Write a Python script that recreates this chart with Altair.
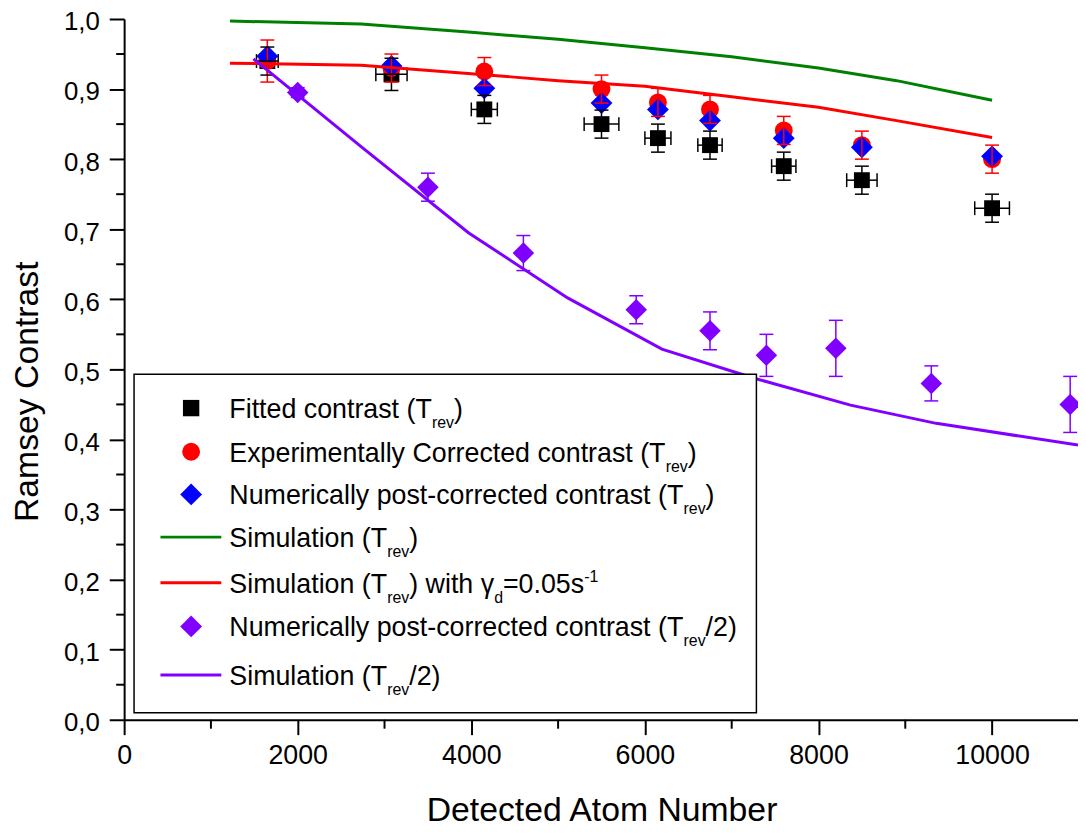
import altair as alt
import pandas as pd

# ---------------- data ----------------
atoms = [1650, 3080, 4150, 5500, 6150, 6750, 7600, 8500, 10000]
atoms_err = [125, 180, 150, 200, 150, 140, 140, 175, 200]
fitted = [0.940, 0.921, 0.871, 0.850, 0.830, 0.820, 0.790, 0.770, 0.730]
fitted_err = [0.02, 0.023, 0.02, 0.02, 0.02, 0.02, 0.02, 0.02, 0.02]
exp_corr = [0.940, 0.930, 0.925, 0.900, 0.881, 0.871, 0.841, 0.820, 0.800]
exp_corr_err = [0.03, 0.02, 0.02, 0.02, 0.02, 0.02, 0.02, 0.02, 0.02]
num_corr = [0.947, 0.933, 0.901, 0.880, 0.871, 0.855, 0.830, 0.817, 0.804]

half_atoms = [2000, 3500, 4600, 5900, 6750, 7400, 8200, 9300, 10900]
half_corr = [0.895, 0.760, 0.666, 0.585, 0.555, 0.520, 0.530, 0.480, 0.450]
half_err = [0.007, 0.02, 0.025, 0.02, 0.027, 0.03, 0.04, 0.025, 0.04]

sim_x = [1220, 2730, 4000, 5000, 6000, 7000, 8000, 8900, 10000]
sim_trev = [0.997, 0.993, 0.981, 0.971, 0.959, 0.946, 0.930, 0.912, 0.884]
sim_trev_gamma = [0.937, 0.934, 0.922, 0.912, 0.904, 0.889, 0.874, 0.855, 0.831]
sim_half_x = [1490, 2730, 3967, 5110, 6196, 7270, 8369, 9356, 10990]
sim_half = [0.943, 0.818, 0.695, 0.602, 0.529, 0.487, 0.449, 0.423, 0.392]

x_major = [0, 2000, 4000, 6000, 8000, 10000]
x_minor = [1000, 3000, 5000, 7000, 9000]
y_major = [round(i * 0.1, 1) for i in range(11)]
y_minor = [round(0.05 + i * 0.1, 2) for i in range(10)]

BLACK, RED, BLUE, PURPLE, GREEN = "#000000", "#ff0000", "#0000ff", "#8000ff", "#008000"

legend_parts = [
    [("Fitted contrast (T", "n"), ("rev", "sub"), (")", "n")],
    [("Experimentally Corrected contrast (T", "n"), ("rev", "sub"), (")", "n")],
    [("Numerically post-corrected contrast (T", "n"), ("rev", "sub"), (")", "n")],
    [("Simulation (T", "n"), ("rev", "sub"), (")", "n")],
    [("Simulation (T", "n"), ("rev", "sub"), (") with \u03b3", "n"), ("d", "sub"),
     ("=0.05s", "n"), ("-1", "sup")],
    [("Numerically post-corrected contrast (T", "n"), ("rev", "sub"), ("/2)", "n")],
    [("Simulation (T", "n"), ("rev", "sub"), ("/2)", "n")],
]
legend_kind = ["square", "circle", "diamond", "line", "line", "diamond", "line"]
legend_color = [BLACK, RED, BLUE, GREEN, RED, PURPLE, PURPLE]

# ---------------- layout ----------------
W, H = 961, 706
XMAX = 10990
FONT = "Liberation Sans"

ARIAL = {' ': 278, '(': 333, ')': 333, '-': 333, '.': 278, '/': 278, '0': 556, '1': 556,
         '2': 556, '5': 556, '=': 584, 'C': 722, 'E': 667, 'F': 611, 'N': 722, 'S': 667,
         'T': 611, 'a': 556, 'c': 500, 'd': 556, 'e': 556, 'h': 556, 'i': 222, 'l': 222,
         'm': 833, 'n': 556, 'o': 556, 'p': 556, 'r': 333, 's': 500, 't': 278, 'u': 556,
         'v': 500, 'w': 722, 'x': 500, 'y': 500, '\u03b3': 500}


def text_width(s, size):
    return sum(ARIAL.get(c, 556) for c in s) * size / 1000.0


xs = alt.Scale(domain=[0, XMAX], nice=False, zero=False)
ys = alt.Scale(domain=[0, 1], nice=False, zero=False)

X_AXIS = alt.Axis(values=x_major, labelExpr="format(datum.value, 'd')",
                  title="Detected Atom Number", grid=False, tickSize=15, tickWidth=2,
                  tickColor="black", domainColor="black", domainWidth=2,
                  labelFontSize=27, labelColor="black", labelPadding=8, labelFlush=False,
                  labelOverlap=False, labelFont=FONT, titleFont=FONT, titleFontSize=34,
                  titleFontWeight="normal", titleColor="black", titleX=481, titleY=101,
                  titleBaseline="alphabetic", titleAlign="center")
Y_AXIS = alt.Axis(values=y_major, labelExpr="replace(format(datum.value, '.1f'), '.', ',')",
                  title="Ramsey Contrast", grid=False, tickSize=15, tickWidth=2,
                  tickColor="black", domainColor="black", domainWidth=2,
                  labelFontSize=26, labelColor="black", labelPadding=10, labelFlush=False,
                  labelOffset=3,
                  labelOverlap=False, labelFont=FONT, titleFont=FONT, titleFontSize=34,
                  titleFontWeight="normal", titleColor="black", titleX=-97, titleY=375,
                  titleAngle=270, titleBaseline="middle", titleAlign="center")


def X(f):
    return alt.X(f"{f}:Q", scale=xs, axis=X_AXIS)


def Y(f):
    return alt.Y(f"{f}:Q", scale=ys, axis=Y_AXIS)


# ---------------- tables ----------------
pts = pd.concat([
    pd.DataFrame({"x": atoms, "y": fitted, "shape": "square", "color": BLACK, "size": 256}),
    pd.DataFrame({"x": atoms, "y": exp_corr, "shape": "circle", "color": RED, "size": 324}),
    pd.DataFrame({"x": atoms, "y": num_corr, "shape": "diamond", "color": BLUE, "size": 484}),
    pd.DataFrame({"x": half_atoms, "y": half_corr, "shape": "diamond", "color": PURPLE, "size": 470}),
], ignore_index=True)

yerr = pd.concat([
    pd.DataFrame({"x": atoms, "lo": [v - e for v, e in zip(fitted, fitted_err)],
                  "hi": [v + e for v, e in zip(fitted, fitted_err)], "color": BLACK}),
    pd.DataFrame({"x": atoms, "lo": [v - e for v, e in zip(exp_corr, exp_corr_err)],
                  "hi": [v + e for v, e in zip(exp_corr, exp_corr_err)], "color": RED}),
    pd.DataFrame({"x": half_atoms, "lo": [v - e for v, e in zip(half_corr, half_err)],
                  "hi": [v + e for v, e in zip(half_corr, half_err)], "color": PURPLE}),
], ignore_index=True)
ycaps = pd.concat([
    yerr[["x", "lo", "color"]].rename(columns={"lo": "y"}),
    yerr[["x", "hi", "color"]].rename(columns={"hi": "y"}),
], ignore_index=True)

xerr = pd.DataFrame({"y": fitted, "lo": [a - e for a, e in zip(atoms, atoms_err)],
                     "hi": [a + e for a, e in zip(atoms, atoms_err)], "color": BLACK})
xcaps = pd.concat([
    xerr[["y", "lo", "color"]].rename(columns={"lo": "x"}),
    xerr[["y", "hi", "color"]].rename(columns={"hi": "x"}),
], ignore_index=True)

lines = pd.concat([
    pd.DataFrame({"x": sim_x, "y": sim_trev, "series": "a", "color": GREEN}),
    pd.DataFrame({"x": sim_x, "y": sim_trev_gamma, "series": "b", "color": RED}),
    pd.DataFrame({"x": sim_half_x, "y": sim_half, "series": "c", "color": PURPLE}),
], ignore_index=True)

# legend (pixel layout, relative to plot area)
row_y = [392, 436, 479, 522, 568, 612, 661]
sym_rows, line_rows, txt_rows = [], [], []
for i, (parts, kind, col) in enumerate(zip(legend_parts, legend_kind, legend_color)):
    if kind == "line":
        line_rows.append({"py": row_y[i], "color": col})
    else:
        sym_rows.append({"px": 67.5, "py": row_y[i], "shape": kind, "color": col,
                         "size": {"square": 272, "circle": 324, "diamond": 484}[kind]})
    cx = 106.0
    for txt, k in parts:
        fs = 27 if k == "n" else 16
        base = row_y[i] + (10 if k == "n" else (20 if k == "sub" else -1))
        txt_rows.append({"px": cx, "py": base, "fs": fs, "t": txt})
        cx += text_width(txt, fs)
sym_df = pd.DataFrame(sym_rows)
line_df = pd.DataFrame(line_rows)
txt_df = pd.DataFrame(txt_rows)

# ---------------- layers ----------------
minor_y = alt.Chart(pd.DataFrame({"v": y_minor})).mark_rule(color="black", strokeWidth=2).encode(
    y=Y("v"), x=alt.value(-8), x2=alt.value(0))
minor_x = alt.Chart(pd.DataFrame({"v": x_minor})).mark_rule(color="black", strokeWidth=2).encode(
    x=X("v"), y=alt.value(H), y2=alt.value(H + 9))

points = alt.Chart(pts).mark_point(filled=True, opacity=1, strokeWidth=0).encode(
    x=X("x"), y=Y("y"),
    shape=alt.Shape("shape:N", scale=None),
    color=alt.Color("color:N", scale=None),
    size=alt.Size("size:Q", scale=None))

yerr_rules = alt.Chart(yerr).mark_rule(strokeWidth=1.5).encode(
    x=X("x"), y=Y("lo"), y2="hi", color=alt.Color("color:N", scale=None))
ycap_ticks = alt.Chart(ycaps).mark_tick(orient="horizontal", size=14, thickness=1.5, opacity=1).encode(
    x=X("x"), y=Y("y"), color=alt.Color("color:N", scale=None))
xerr_rules = alt.Chart(xerr).mark_rule(strokeWidth=1.5).encode(
    y=Y("y"), x=X("lo"), x2="hi", color=alt.Color("color:N", scale=None))
xcap_ticks = alt.Chart(xcaps).mark_tick(orient="vertical", size=14, thickness=1.5, opacity=1).encode(
    x=X("x"), y=Y("y"), color=alt.Color("color:N", scale=None))

sim_lines = alt.Chart(lines).mark_line(strokeWidth=3, clip=True).encode(
    x=X("x"), y=Y("y"), detail="series:N", color=alt.Color("color:N", scale=None))

leg_box = alt.Chart(pd.DataFrame({"a": [0]})).mark_rect(
    fill="white", stroke="black", strokeWidth=1.5).encode(
    x=alt.value(10), x2=alt.value(637), y=alt.value(358), y2=alt.value(699))
leg_sym = alt.Chart(sym_df).mark_point(filled=True, opacity=1, strokeWidth=0).encode(
    x=alt.X("px:Q", scale=None, axis=None), y=alt.Y("py:Q", scale=None, axis=None),
    shape=alt.Shape("shape:N", scale=None), color=alt.Color("color:N", scale=None),
    size=alt.Size("size:Q", scale=None))
leg_line = alt.Chart(line_df).mark_rule(strokeWidth=3).encode(
    x=alt.value(36.6), x2=alt.value(97.9), y=alt.Y("py:Q", scale=None, axis=None),
    color=alt.Color("color:N", scale=None))
leg_txt = alt.Chart(txt_df).mark_text(align="left", baseline="alphabetic", font=FONT,
                                      color="black").encode(
    x=alt.X("px:Q", scale=None, axis=None), y=alt.Y("py:Q", scale=None, axis=None),
    size=alt.Size("fs:Q", scale=None), text="t:N")

chart = alt.layer(
    minor_y, minor_x, points, yerr_rules, ycap_ticks, xerr_rules, xcap_ticks, sim_lines,
    leg_box, leg_sym, leg_line, leg_txt,
).properties(
    width=W, height=H,
    autosize=alt.AutoSizeParams(type="none"),
    padding={"left": 117, "top": 8, "right": 0, "bottom": 110},
    background="white",
).configure_view(stroke=None)

chart.save("out.html", embed_options={"renderer": "svg", "actions": False})
